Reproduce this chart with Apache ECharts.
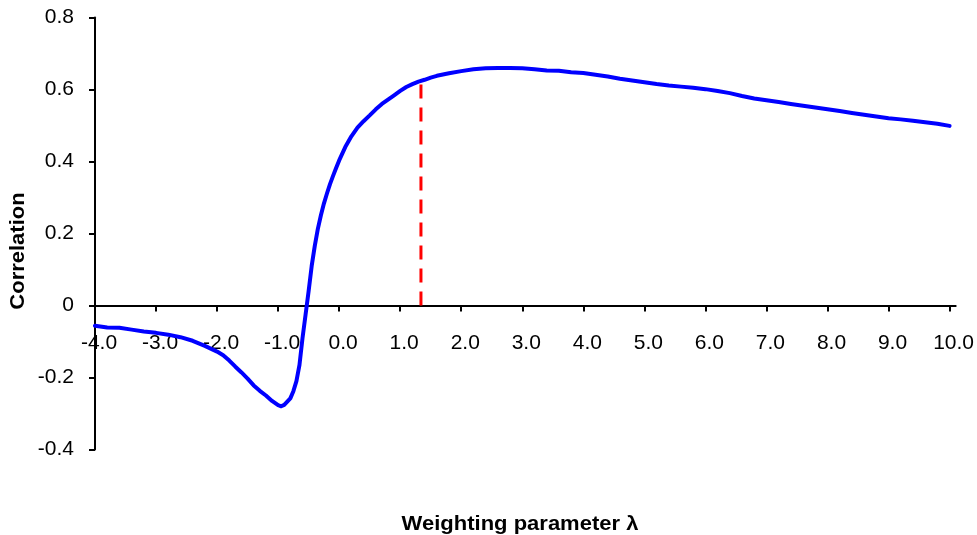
<!DOCTYPE html>
<html>
<head>
<meta charset="utf-8">
<script src="https://cdn.jsdelivr.net/npm/echarts@6/dist/echarts.min.js"></script>
<style>
html,body{margin:0;padding:0;background:#fff;}
#chart{width:977px;height:535px;}
</style>
</head>
<body>
<div id="chart"></div>
<script>
// Weighting parameter lambda (x) and correlation (y)
const lambdaValues = [
  -4.0,-3.8,-3.6,-3.4,-3.2,-3.0,-2.8,-2.6,-2.4,-2.2,-2.0,-1.9,-1.8,-1.7,-1.6,-1.5,-1.4,-1.3,-1.2,-1.1,
  -1.0,-0.95,-0.9,-0.8,-0.75,-0.7,-0.65,-0.6,-0.55,-0.5,-0.45,-0.4,-0.35,-0.3,-0.25,-0.2,-0.15,-0.1,-0.05,
  0.0,0.1,0.2,0.3,0.4,0.5,0.6,0.7,0.8,0.9,1.0,1.1,1.2,1.3,1.4,1.5,1.6,1.8,2.0,2.2,2.4,2.6,2.8,
  3.0,3.2,3.4,3.6,3.8,4.0,4.2,4.4,4.6,4.8,5.0,5.2,5.4,5.6,5.8,6.0,6.2,6.4,6.6,6.8,
  7.0,7.2,7.4,7.6,7.8,8.0,8.2,8.4,8.6,8.8,9.0,9.2,9.4,9.6,9.8,10.0
];
const correlationValues = [
  -0.056,-0.061,-0.062,-0.067,-0.072,-0.076,-0.081,-0.088,-0.098,-0.112,-0.128,-0.138,-0.153,-0.170,-0.186,-0.203,-0.222,-0.237,-0.250,-0.265,
  -0.277,-0.280,-0.276,-0.258,-0.238,-0.210,-0.165,-0.090,-0.025,0.040,0.110,0.165,0.212,0.250,0.283,0.311,0.337,0.360,0.382,
  0.403,0.440,0.470,0.494,0.512,0.528,0.545,0.560,0.572,0.584,0.596,0.607,0.615,0.622,0.627,0.633,0.638,0.645,0.651,0.656,0.659,0.660,0.660,
  0.659,0.656,0.653,0.652,0.648,0.646,0.641,0.636,0.630,0.625,0.620,0.615,0.611,0.608,0.605,0.601,0.596,0.590,0.582,0.575,
  0.570,0.565,0.560,0.555,0.550,0.545,0.540,0.535,0.530,0.525,0.520,0.517,0.513,0.509,0.505,0.499
];
// Optimal lambda marker (red dashed line)
const optimalLambda = 1.34;
const optimalCorrelation = 0.624;
// Tick labels
const xTickValues = [-4,-3,-2,-1,0,1,2,3,4,5,6,7,8,9,10];
const yMin = -0.4, yMax = 0.8, yStep = 0.2;
const xMin = -4, xMax = 10.1;

const FONT = "'Liberation Sans', Arial, sans-serif";
const chart = echarts.init(document.getElementById('chart'), null, {renderer: 'canvas'});

const curve = lambdaValues.map((x, i) => [x, correlationValues[i]]);
const marker = [[optimalLambda, 0], [optimalLambda, optimalCorrelation]];

// grid geometry: plot height 432px for 1.2 units -> zero line sits 144px above the bottom edge
const gridTop = 17.5, gridBottom = 85.5;
const plotH = 535 - gridTop - gridBottom;
const zeroOffset = -plotH * (0 - yMin) / (yMax - yMin);

chart.setOption({
  animation: false,
  backgroundColor: '#ffffff',
  grid: {left: 95, right: 20, top: gridTop, bottom: gridBottom, containLabel: false},
  xAxis: {
    type: 'value', min: xMin, max: xMax, interval: 1,
    offset: zeroOffset,
    axisLine: {show: true, onZero: false, lineStyle: {color: '#000', width: 2}},
    axisTick: {show: true, length: 6, lineStyle: {color: '#000', width: 2}, customValues: xTickValues},
    axisLabel: {
      customValues: xTickValues,
      formatter: v => Number(v).toFixed(1),
      color: '#000', fontSize: 21, fontFamily: FONT, margin: 27, padding: [0,0,0,8],
      showMinLabel: true, showMaxLabel: true, hideOverlap: false
    },
    splitLine: {show: false}
  },
  yAxis: {
    type: 'value', min: yMin, max: yMax, interval: yStep,
    axisLine: {show: true, onZero: false, lineStyle: {color: '#000', width: 2}},
    axisTick: {show: true, length: 6, lineStyle: {color: '#000', width: 2}},
    axisLabel: {color: '#000', fontSize: 21, fontFamily: FONT, margin: 21},
    splitLine: {show: false}
  },
  graphic: [
    {type: 'text', x: 18, y: 251, rotation: Math.PI / 2, scaleX: 1.1,
     style: {text: 'Correlation', font: "bold 20px 'Liberation Sans', Arial, sans-serif", fill: '#000', align: 'center', verticalAlign: 'middle'}},
    {type: 'text', x: 520, y: 524, scaleX: 1.1,
     style: {text: 'Weighting parameter λ', font: "bold 20px 'Liberation Sans', Arial, sans-serif", fill: '#000', align: 'center', verticalAlign: 'middle'}}
  ],
  series: [
    {type: 'line', data: marker, showSymbol: false, symbol: 'none', z: 2,
     lineStyle: {color: '#ff0000', width: 3, type: [14, 9]}},
    {type: 'line', data: curve, showSymbol: false, symbol: 'none', smooth: false, z: 3,
     lineStyle: {color: '#0000ff', width: 4, cap: 'round', join: 'round'}}
  ]
});
</script>
</body>
</html>
